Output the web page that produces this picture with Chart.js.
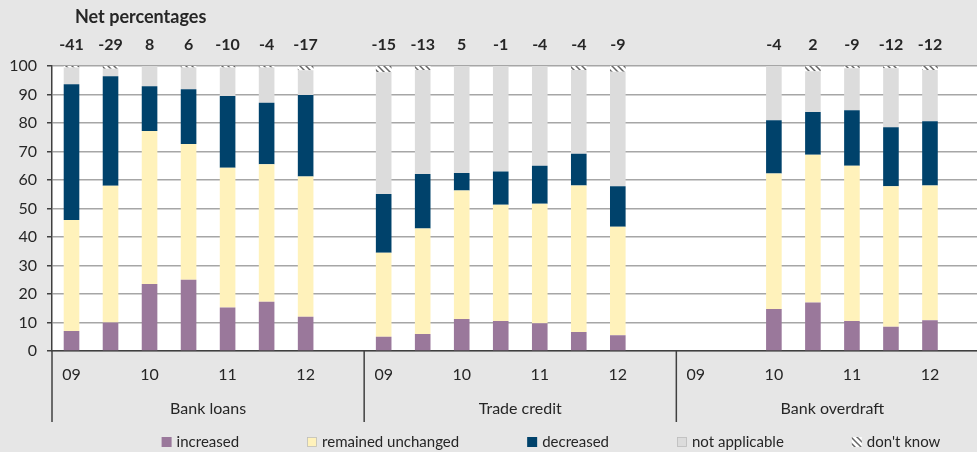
<!DOCTYPE html>
<html>
<head>
<meta charset="utf-8">
<script src="https://cdn.jsdelivr.net/npm/chart.js@4.4.1/dist/chart.umd.min.js"></script>
<style>
  html, body { margin: 0; padding: 0; background: #e6e6e6; overflow: hidden; }
  #wrap { width: 992px; height: 452px; }
</style>
</head>
<body>
<div id="wrap"><canvas id="financing"></canvas></div>
<script>
// categories: 3 groups of 8 half-year slots
const groups = ['Bank loans', 'Trade credit', 'Bank overdraft'];
const periods = ['09', '', '10', '', '11', '', '12', ''];

// series (percent of firms), one value per slot, null = no survey
const increased     = [7, 10, 23.5, 25, 15.3, 17.3, 12, null,   5, 6, 11.2, 10.5, 9.7, 6.7, 5.5, null,   null, null, 14.7, 17, 10.5, 8.5, 10.8, null];
const unchanged     = [39, 48, 53.7, 47.6, 49, 48.2, 49.2, null,   29.5, 37, 45.1, 40.8, 42, 51.4, 38.1, null,   null, null, 47.6, 51.9, 54.5, 49.3, 47.3, null];
const decreased     = [47.6, 38.4, 15.7, 19.2, 25.2, 21.6, 28.6, null,   20.6, 19.1, 6.2, 11.7, 13.3, 11.1, 14.2, null,   null, null, 18.7, 15, 19.5, 20.7, 22.5, null];
const notApplicable = [5.9, 2.6, 7.1, 7.7, 10, 12.4, 8.7, null,   42.7, 36.5, 37.5, 37, 35, 29.4, 40.2, null,   null, null, 19, 14.3, 14.7, 20.7, 18, null];
const dontKnow      = [0.5, 1, 0, 0.5, 0.5, 0.5, 1.5, null,   2.2, 1.4, 0, 0, 0, 1.4, 2, null,   null, null, 0, 1.8, 0.8, 0.8, 1.4, null];
const netPct        = [-41, -29, 8, 6, -10, -4, -17, null,   -15, -13, 5, -1, -4, -4, -9, null,   null, null, -4, 2, -9, -12, -12, null];

const yTicks = [0, 100, 10]; // min, max, step

const labels = groups.flatMap(g => periods.map(p => p));

const FONT = 'Lato, "Open Sans", sans-serif';
const TEXT = '#262626';

// hatch for "don't know"
function makeHatch() {
  const c = document.createElement('canvas');
  c.width = 6; c.height = 6;
  const g = c.getContext('2d');
  g.fillStyle = '#ffffff';
  g.fillRect(0, 0, 6, 6);
  g.strokeStyle = '#666666';
  g.lineWidth = 1.5;
  g.beginPath();
  g.moveTo(-1, -1); g.lineTo(7, 7);
  g.moveTo(-4, 2); g.lineTo(2, 8);
  g.moveTo(2, -4); g.lineTo(8, 2);
  g.stroke();
  return g.createPattern(c, 'repeat');
}

const series = [
  { label: 'increased', data: increased, color: '#9a789b' },
  { label: 'remained unchanged', data: unchanged, color: '#fff2bb' },
  { label: 'decreased', data: decreased, color: '#00426b' },
  { label: 'not applicable', data: notApplicable, color: '#dcdcdc' },
  { label: "don't know", data: dontKnow, color: makeHatch() }
];

const extras = {
  id: 'extras',
  beforeDraw(chart) {
    const { ctx, chartArea: a } = chart;
    ctx.save();
    ctx.fillStyle = '#e6e6e6';
    ctx.fillRect(0, 0, chart.width, chart.height);
    ctx.fillStyle = '#ffffff';
    ctx.fillRect(a.left, a.top, a.right - a.left, a.bottom - a.top);
    ctx.restore();
  },
  afterDraw(chart) {
    const { ctx, chartArea: a } = chart;
    const x = chart.scales.x;
    ctx.save();

    // net percentages
    ctx.fillStyle = TEXT;
    ctx.font = 'bold 18px ' + FONT;
    ctx.textAlign = 'left';
    ctx.textBaseline = 'middle';
    ctx.fillText('Net percentages', 75, 17);
    ctx.font = 'bold 16px ' + FONT;
    ctx.textAlign = 'center';
    netPct.forEach((v, i) => {
      if (v === null) return;
      ctx.fillText(String(v), x.getPixelForValue(i), 45);
    });

    // group separators and names
    const per = periods.length;
    ctx.strokeStyle = '#404040';
    ctx.lineWidth = 1.5;
    ctx.font = '16px ' + FONT;
    groups.forEach((g, gi) => {
      const first = gi * per;
      const left = gi === 0 ? a.left : (x.getPixelForValue(first - 1) + x.getPixelForValue(first)) / 2;
      const right = (x.getPixelForValue(first + per - 1) + x.getPixelForValue(first + per)) / 2;
      ctx.beginPath();
      ctx.moveTo(left, a.bottom);
      ctx.lineTo(left, a.bottom + 71);
      ctx.stroke();
      ctx.fillText(g, (left + right) / 2, a.bottom + 58);
    });

    // legend
    ctx.font = '15px ' + FONT;
    ctx.textAlign = 'left';
    const gap = 68, box = 10;
    const widths = series.map(s => box + 5 + ctx.measureText(s.label).width);
    const total = widths.reduce((s, w) => s + w, 0) + gap * (series.length - 1);
    let lx = 551 - total / 2;
    const ly = 442;
    series.forEach((s, i) => {
      ctx.fillStyle = s.color;
      ctx.fillRect(lx, ly - box / 2, box, box);
      ctx.strokeStyle = '#bdbdbd';
      ctx.lineWidth = 0.8;
      if (i === 1 || i === 3) ctx.strokeRect(lx + 0.5, ly - box / 2 + 0.5, box - 1, box - 1);
      ctx.fillStyle = TEXT;
      ctx.fillText(s.label, lx + box + 5, ly);
      lx += widths[i] + gap;
    });
    ctx.restore();
  }
};

new Chart(document.getElementById('financing'), {
  type: 'bar',
  data: {
    labels: labels,
    datasets: series.map(s => ({
      label: s.label,
      data: s.data,
      backgroundColor: s.color,
      borderWidth: 0,
      barPercentage: 0.4,
      categoryPercentage: 1
    }))
  },
  options: {
    responsive: true,
    maintainAspectRatio: false,
    animation: false,
    layout: { padding: { left: 0, top: 66, right: 3.5, bottom: 0 } },
    plugins: {
      legend: { display: false },
      tooltip: { enabled: false }
    },
    scales: {
      x: {
        stacked: true,
        afterFit: s => { s.height = 101; },
        grid: { display: false, drawTicks: false },
        border: { display: true, color: '#404040', width: 1.5 },
        ticks: {
          autoSkip: false,
          maxRotation: 0,
          padding: 14,
          color: TEXT,
          font: { family: FONT, size: 16 }
        }
      },
      y: {
        stacked: true,
        min: yTicks[0],
        max: yTicks[1],
        afterFit: s => { s.width = 52; },
        grid: { color: '#a6a6a6', lineWidth: 1.5, tickLength: 5, tickColor: '#404040' },
        border: { display: true, color: '#404040', width: 1.5 },
        ticks: {
          stepSize: yTicks[2],
          padding: 10,
          color: TEXT,
          font: { family: FONT, size: 16 }
        }
      }
    }
  },
  plugins: [extras]
});
</script>
</body>
</html>
